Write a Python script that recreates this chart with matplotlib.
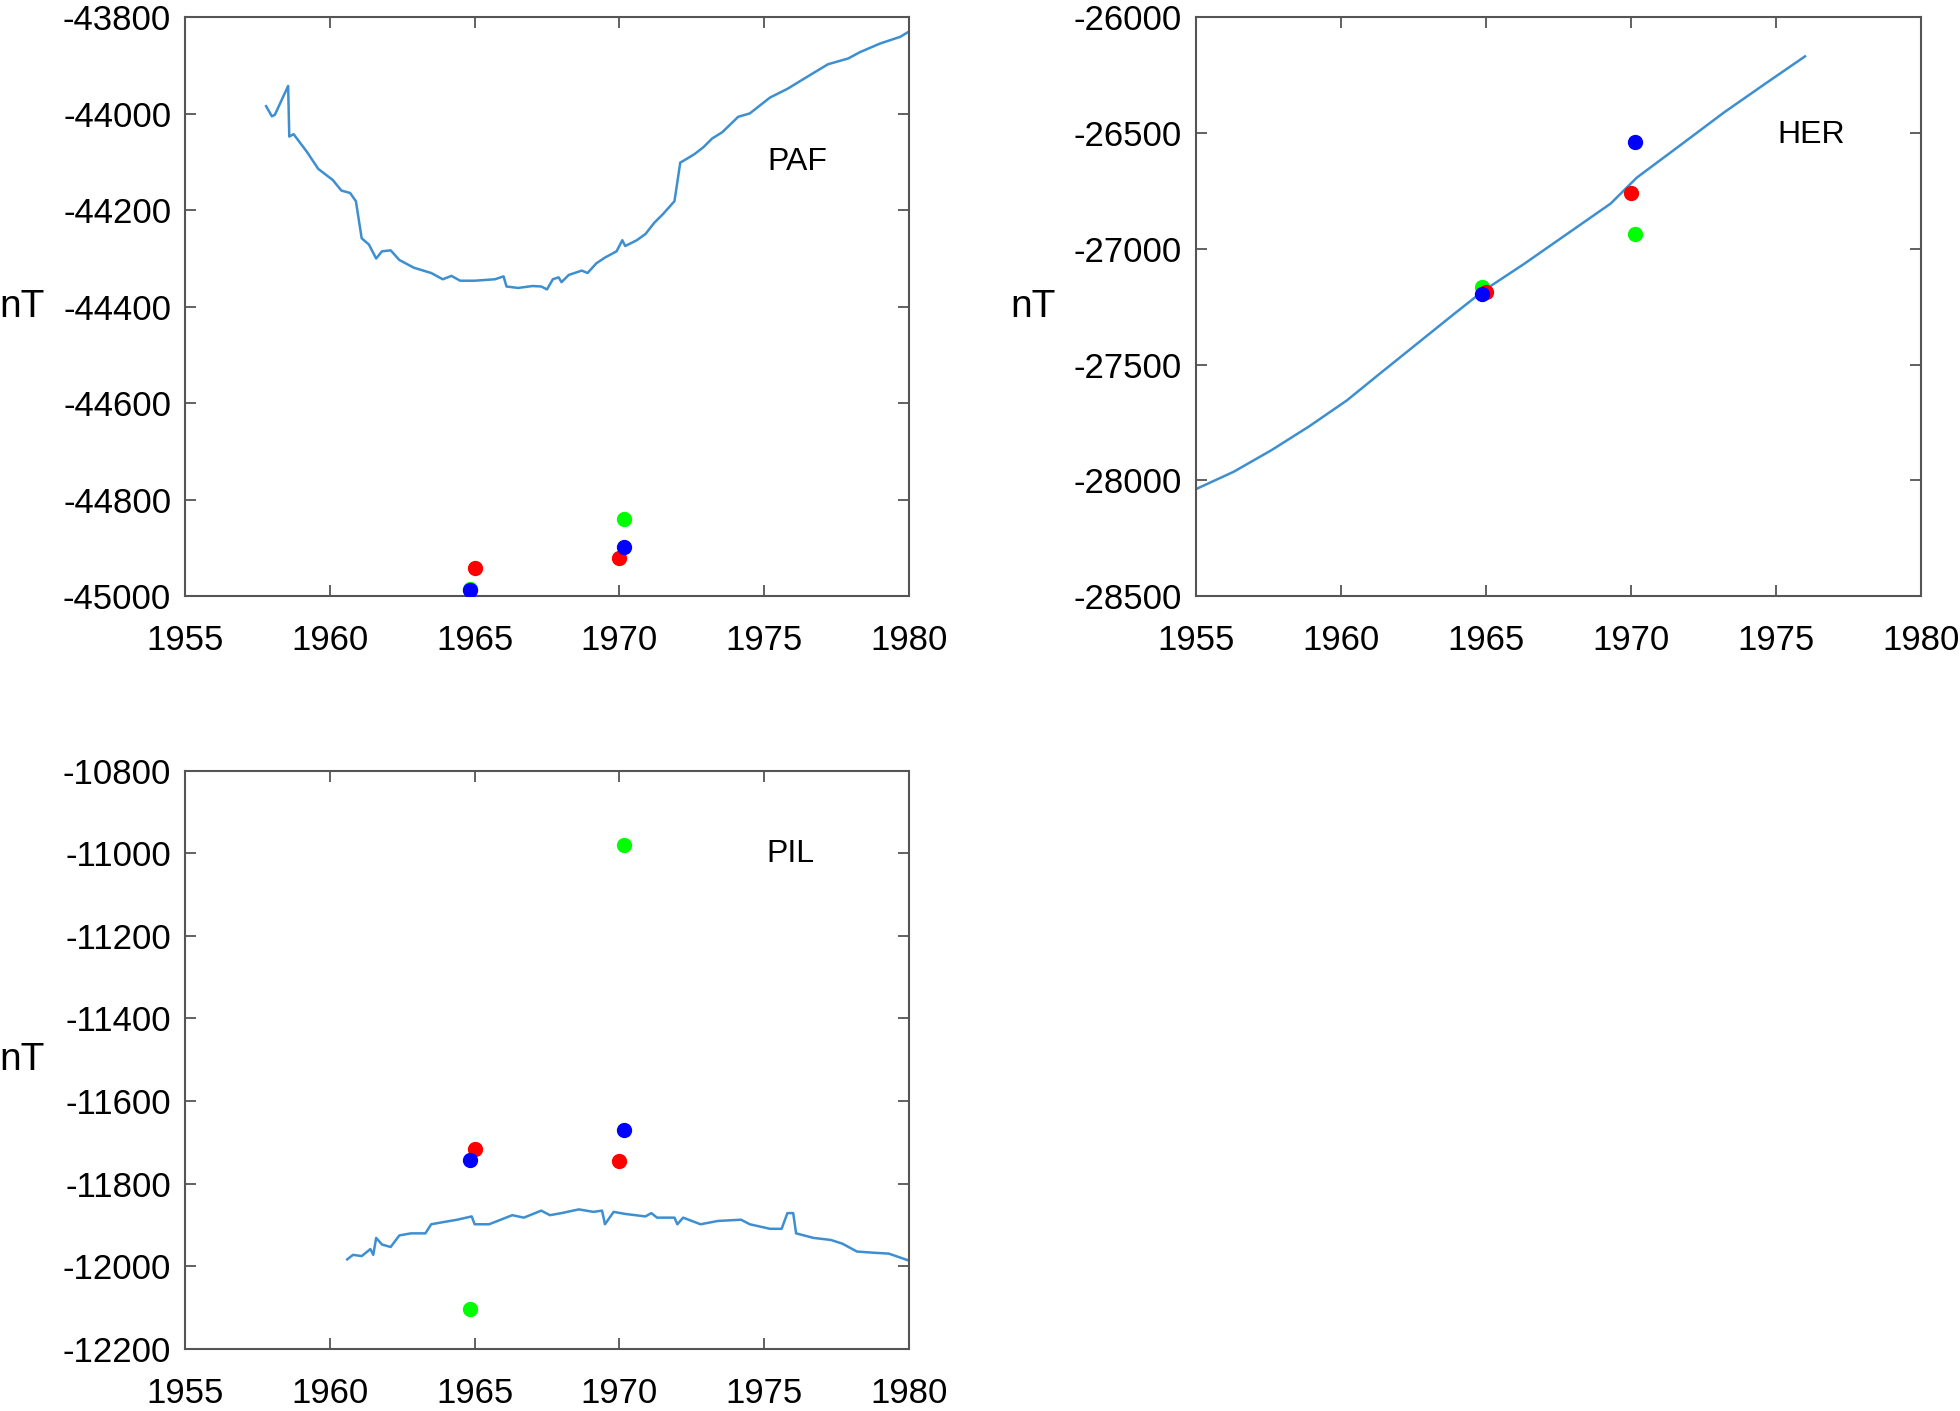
import matplotlib
matplotlib.use('Agg')
import matplotlib.pyplot as plt

plt.rcParams['font.family'] = ['Liberation Sans', 'DejaVu Sans']
plt.rcParams['axes.unicode_minus'] = False

# PAF observatory series
paf_year = [1957.8, 1958.0, 1958.1, 1958.56, 1958.6, 1958.75, 1959.2, 1959.6, 1960.1, 1960.4,
            1960.7, 1960.9, 1961.1, 1961.35, 1961.6, 1961.8, 1962.1, 1962.4, 1962.9, 1963.5,
            1963.9, 1964.2, 1964.5, 1965.0, 1965.7, 1966.0, 1966.1, 1966.5, 1967.0, 1967.3,
            1967.5, 1967.7, 1967.9, 1968.0, 1968.25, 1968.7, 1968.9, 1969.2, 1969.5, 1969.9,
            1970.1, 1970.2, 1970.6, 1970.9, 1971.2, 1971.5, 1971.9, 1972.1, 1972.3, 1972.6,
            1972.9, 1973.2, 1973.55, 1974.1, 1974.5, 1975.2, 1975.8, 1976.4, 1977.2, 1977.9,
            1978.3, 1979.0, 1979.7, 1980.0]
paf_nt = [-43984, -44005, -44002, -43942, -44047, -44042, -44078, -44114, -44137, -44159,
          -44164, -44181, -44258, -44271, -44300, -44285, -44283, -44303, -44319, -44330,
          -44343, -44336, -44346, -44346, -44343, -44337, -44358, -44361, -44357, -44358,
          -44364, -44343, -44339, -44349, -44334, -44325, -44330, -44310, -44298, -44285,
          -44262, -44274, -44262, -44249, -44226, -44208, -44181, -44101, -44094, -44083,
          -44069, -44051, -44038, -44006, -43999, -43966, -43948, -43926, -43897, -43885,
          -43872, -43854, -43840, -43829]

# HER observatory series
her_year = [1955.0, 1956.3, 1957.6, 1958.9, 1960.2, 1961.3, 1962.6, 1963.9, 1964.9, 1966.3,
            1967.8, 1969.3, 1970.2, 1971.7, 1973.2, 1974.7, 1976.0]
her_nt = [-28038, -27963, -27870, -27767, -27655, -27543, -27412, -27281, -27182, -27066,
          -26935, -26804, -26692, -26552, -26411, -26280, -26168]

# PIL observatory series
pil_year = [1960.6, 1960.8, 1961.1, 1961.4, 1961.5, 1961.6, 1961.8, 1962.1, 1962.4, 1962.8,
            1963.3, 1963.5, 1963.9, 1964.4, 1964.9, 1965.0, 1965.5, 1965.9, 1966.3, 1966.7,
            1967.3, 1967.6, 1968.0, 1968.6, 1969.1, 1969.4, 1969.5, 1969.8, 1970.2, 1970.9,
            1971.1, 1971.3, 1971.9, 1972.0, 1972.2, 1972.8, 1973.4, 1974.2, 1974.5, 1975.2,
            1975.6, 1975.8, 1976.0, 1976.1, 1976.7, 1977.3, 1977.7, 1978.2, 1978.8, 1979.3,
            1980.0]
pil_nt = [-11983, -11972, -11975, -11958, -11972, -11931, -11947, -11953, -11925, -11920,
          -11920, -11898, -11893, -11887, -11879, -11898, -11898, -11887, -11876, -11882,
          -11865, -11876, -11871, -11862, -11868, -11865, -11898, -11868, -11873, -11879,
          -11871, -11882, -11882, -11898, -11882, -11898, -11890, -11887, -11898, -11909,
          -11909, -11871, -11871, -11920, -11931, -11936, -11945, -11964, -11967, -11969,
          -11986]

# model values at the two epochs (red, blue, green)
red_year = [1965.0, 1970.0]
bg_year = [1964.85, 1970.15]
paf_red = [-44942, -44922]
paf_blue = [-44987, -44898]
paf_green = [-44985, -44841]
her_red = [-27187, -26757]
her_blue = [-27193, -26538]
her_green = [-27165, -26935]
pil_red = [-11717, -11744]
pil_blue = [-11742, -11671]
pil_green = [-12103, -10979]

fig = plt.figure(figsize=(19.6, 14.11), dpi=100)

panels = [
    ([0.0944, 0.5776, 0.3694, 0.41], paf_year, paf_nt, paf_red, paf_blue, paf_green,
     'PAF', (0.845, 0.75), (-45000, -43800), range(-45000, -43799, 200)),
    ([0.6102, 0.5776, 0.3699, 0.41], her_year, her_nt, her_red, her_blue, her_green,
     'HER', (0.848, 0.797), (-28500, -26000), range(-28500, -25999, 500)),
    ([0.0944, 0.0439, 0.3694, 0.41], pil_year, pil_nt, pil_red, pil_blue, pil_green,
     'PIL', (0.836, 0.855), (-12200, -10800), range(-12200, -10799, 200)),
]

for rect, yr, nt, red, blue, green, name, pos, ylim, yt in panels:
    ax = fig.add_axes(rect)
    ax.plot(yr, nt, color='#3d8fd1', lw=1.8, zorder=2)
    ax.plot(bg_year, green, 'o', color='#00ff00', ms=10, zorder=3)
    ax.plot(red_year, red, 'o', color='#ff0000', ms=10, zorder=4)
    ax.plot(bg_year, blue, 'o', color='#0000ff', ms=10, zorder=5)
    ax.set_xlim(1955, 1980)
    ax.set_ylim(*ylim)
    ax.set_xticks(range(1955, 1981, 5))
    ax.set_yticks(list(yt))
    ax.tick_params(direction='in', top=True, right=True, length=8, width=1.3,
                   colors='#555555', labelcolor='black', labelsize=25)
    ax.tick_params(axis='x', pad=20)
    ax.tick_params(axis='y', pad=10)
    for s in ax.spines.values():
        s.set_color('#555555')
        s.set_linewidth(1.5)
    ax.text(pos[0], pos[1], name, transform=ax.transAxes, fontsize=23,
            ha='center', va='center')
    ax.text(-0.225, 0.5, 'nT', transform=ax.transAxes, fontsize=28,
            ha='center', va='center')

fig.savefig('out.png', dpi=100)
